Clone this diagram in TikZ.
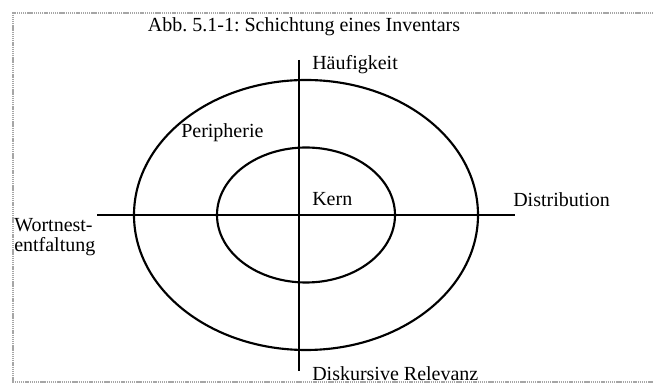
\documentclass[tikz,border=0pt]{standalone}
\usepackage{fontspec}
\setmainfont{Liberation Serif}
\tikzset{
  lbl/.style={anchor=base west, inner sep=0pt, font=\fontsize{15}{15}\selectfont},
  axis/.style={line width=1.8pt},
  layer/.style={line width=1.6pt}
}
\begin{document}
\frenchspacing
\begin{tikzpicture}[x=0.75pt, y=-0.75pt]
    \useasboundingbox (0,0) rectangle (653,384);
    % Dotted frame (open to the right)
    \draw[gray!70, line width=1.2pt, dash pattern=on 1pt off 0.6pt] (660,13) -- (13,13) -- (13,382) -- (660,382);
    % Title
    \node[lbl, anchor=base] (title) at (304,32) {Abb.\ 5.1-1: Schichtung eines Inventars};
    % Layers: Kern and Peripherie
    \draw[layer] (306,215) ellipse (172 and 135);
    \draw[layer] (306,215) ellipse (89 and 67.5);
    % Axes
    \coordinate (top) at (299,60);
    \coordinate (bot) at (299,371);
    \coordinate (lft) at (97,215);
    \coordinate (rgt) at (515,215);
    \draw[axis] (top) -- (bot);
    \draw[axis] (lft) -- (rgt);
    % Labels
    \node[lbl] (freq) at (312,70) {Häufigkeit};
    \node[lbl] (periph) at (181,138) {Peripherie};
    \node[lbl] (kern) at (312,206) {Kern};
    \node[lbl] (distr) at (513,207) {Distribution};
    \node[lbl, align=left] (wort) at (14,252) {Wortnest-\\entfaltung};
    \node[lbl] (diskurs) at (312,381) {Diskursive Relevanz};
\end{tikzpicture}
\end{document}
